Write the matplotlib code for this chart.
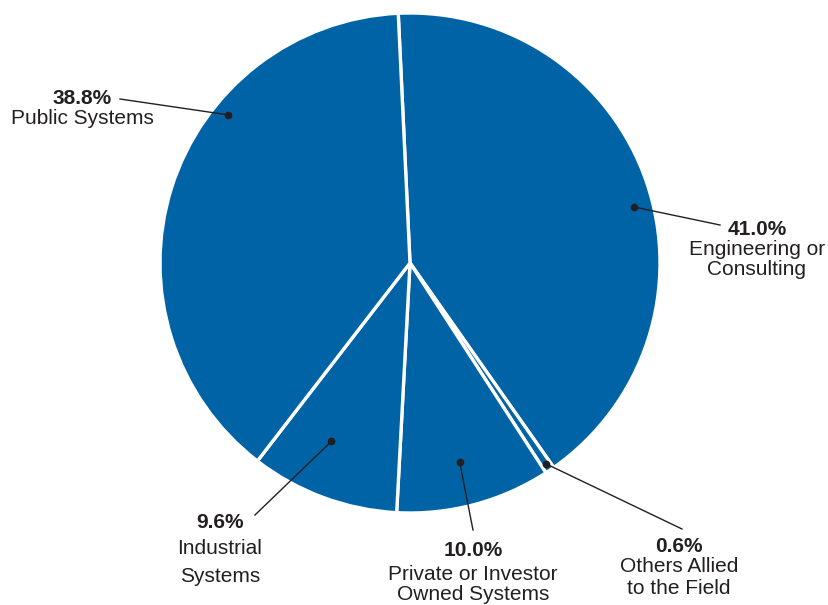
import numpy as np
import matplotlib
matplotlib.use("Agg")
import matplotlib.pyplot as plt

plt.rcParams['font.family'] = ['Liberation Sans', 'DejaVu Sans']

# data (clockwise from top)
categories = ["Engineering or\nConsulting", "Others Allied\nto the Field",
              "Private or Investor\nOwned Systems", "Industrial\nSystems",
              "Public Systems"]
shares = [41.0, 0.6, 10.0, 9.6, 38.8]

BLUE = "#0063A6"
INK = "#231F20"
H = 605


def P(px, py):
    # pixel coords (y down) -> data coords (y up)
    return px, H - py


fig = plt.figure(figsize=(8.29, 6.05), dpi=100)
ax = fig.add_axes([0, 0, 1, 1])
ax.set_xlim(0, 829)
ax.set_ylim(0, H)
ax.axis("off")

cx, cy = P(410, 263)
R = 250
start = 92.7
wedges, _ = ax.pie(shares, center=(cx, cy), radius=R, startangle=start,
                   counterclock=False, colors=[BLUE] * len(shares),
                   wedgeprops=dict(edgecolor="white", linewidth=2.4),
                   frame=True)
ax.set_xlim(0, 829)
ax.set_ylim(0, H)
ax.set_aspect("equal")
ax.axis("off")

# label layout: anchor (angle deg, radius frac), line end (px), text center x, line ys
layout = [
    ((14.0, 0.925), (720, 225), 757, [230, 250, 270]),
    ((-55.9, 0.97), (682, 529), 679, [546, 567, 588]),
    ((-76.0, 0.82), (473, 530), 473, [551, 574, 595]),
    ((-113.8, 0.78), (255, 515), 220, [522, 549, 576]),
    ((140.9, 0.94), (120, 99), 82, [99, 119]),
]

for cat, val, (anc, lend, tx, ys) in zip(categories, shares, layout):
    a = np.deg2rad(anc[0])
    ax_, ay_ = cx + R * anc[1] * np.cos(a), cy + R * anc[1] * np.sin(a)
    ex, ey = P(*lend)
    ax.plot([ax_, ex], [ay_, ey], color=INK, lw=1.0, zorder=5)
    ax.plot(ax_, ay_, "o", color=INK, ms=4.5, zorder=6)
    lines = ["%.1f%%" % val] + cat.split("\n")
    for k, (txt, y) in enumerate(zip(lines, ys)):
        ax.text(tx, H - y, txt, ha="center", va="center", fontsize=15,
                color=INK, fontweight="bold" if k == 0 else "normal")

fig.savefig("out.png", dpi=100)
